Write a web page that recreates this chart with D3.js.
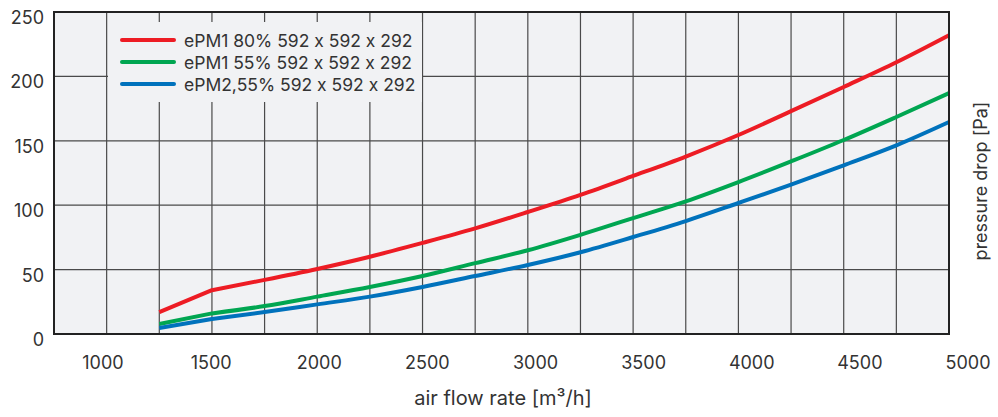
<!DOCTYPE html>
<html><head><meta charset="utf-8">
<script src="https://cdn.jsdelivr.net/npm/d3@7"></script>
<style>
body{margin:0;background:#fff;}
text{font-family:Inter,"Noto Sans",sans-serif;fill:#333;font-feature-settings:"calt" 0;}
</style></head>
<body><svg id="c" width="998" height="417"></svg>
<script>
const flow = [1250,1500,1750,2000,2250,2500,2750,3000,3250,3500,3750,4000,4250,4500,4750,5000];
const epm1_80 = [17,34,42,50.5,60,70.7,82,94.7,108,122.7,137.8,154.5,173,191.8,211,232];
const epm1_55 = [7.8,16,21.7,29,36.5,45,55,65,77,90,103,118,134,150.6,168.5,187];
const epm2_55 = [4.7,11.6,17,23,29,36.5,45,53.6,63.5,75.3,87.7,101.7,116,131,146.5,164.6];
const seriesNames = ["ePM1 80% 592 x 592 x 292","ePM1 55% 592 x 592 x 292","ePM2,55% 592 x 592 x 292"];
const seriesColors = ["#ed1c24","#00a651","#0072bc"];
const xTicks = [1000,1500,2000,2500,3000,3500,4000,4500,5000];
const yTicks = [0,50,100,150,200,250];
const xGrid = d3.range(1000,5000,250);
const xTitle = "air flow rate [m³/h]";
const yTitle = "pressure drop [Pa]";

const svg = d3.select("#c");
const x = d3.scaleLinear().domain([750,5000]).range([54,949]);
const y = d3.scaleLinear().domain([0,250]).range([334,12]);
const xLab = d3.scaleLinear().domain([1000,5000]).range([103,968]);

svg.append("rect").attr("x",54).attr("y",12).attr("width",895).attr("height",322).attr("fill","#f1f2f4");

const g = svg.append("g");
g.selectAll(".vg").data(xGrid).join("line")
  .attr("x1",d=>x(d)).attr("x2",d=>x(d)).attr("y1",y(250)).attr("y2",y(0))
  .attr("stroke","#4a4a4a").attr("stroke-width",1.2);
g.selectAll(".hg").data(yTicks).join("line")
  .attr("x1",x(750)).attr("x2",x(5000)).attr("y1",d=>y(d)).attr("y2",d=>y(d))
  .attr("stroke","#4a4a4a").attr("stroke-width",1.2);

// legend box covering grid
svg.append("rect").attr("x",108).attr("y",22).attr("width",314).attr("height",80).attr("fill","#f1f2f4");

const data = [epm1_80, epm1_55, epm2_55];
data.forEach((s,k)=>{
  const pts = s.map((v,i)=>[flow[i],v]);
  // first segment straight (sharp kink at 1500 in red), rest smooth
  const startLine = d3.line().x(d=>x(d[0])).y(d=>y(d[1]));
  const restLine = d3.line().x(d=>x(d[0])).y(d=>y(d[1])).curve(d3.curveMonotoneX);
  const dStr = startLine(pts.slice(0,2)) + restLine(pts.slice(1)).replace(/^M[^A-Za-z]*/, "");
  svg.append("path").attr("d",dStr).attr("fill","none")
    .attr("stroke",seriesColors[k]).attr("stroke-width",4).attr("stroke-linejoin","round");
});

svg.append("rect").attr("x",54).attr("y",12).attr("width",895).attr("height",322)
  .attr("fill","none").attr("stroke","#222").attr("stroke-width",2);

// legend
const leg = svg.append("g");
seriesNames.forEach((n,k)=>{
  const yy = 40 + k*22;
  leg.append("line").attr("x1",122).attr("x2",174).attr("y1",yy).attr("y2",yy)
    .attr("stroke",seriesColors[k]).attr("stroke-width",4).attr("stroke-linecap","round");
  leg.append("text").attr("x",184).attr("y",yy+7).attr("font-size",17.5).text(n);
});

// y tick labels
svg.selectAll(".yl").data(yTicks).join("text")
  .attr("x",44).attr("y",d=>y(d)+12).attr("text-anchor","end").attr("font-size",18).text(d=>d);
// x tick labels
svg.selectAll(".xl").data(xTicks).join("text")
  .attr("x",d=>xLab(d)).attr("y",369).attr("text-anchor","middle").attr("font-size",18).text(d=>d);

svg.append("text").attr("x",503).attr("y",405).attr("text-anchor","middle").attr("font-size",20).text(xTitle);
svg.append("text").attr("transform","translate(987,181) rotate(-90)").attr("text-anchor","middle").attr("font-size",18).text(yTitle);
</script></body></html>
